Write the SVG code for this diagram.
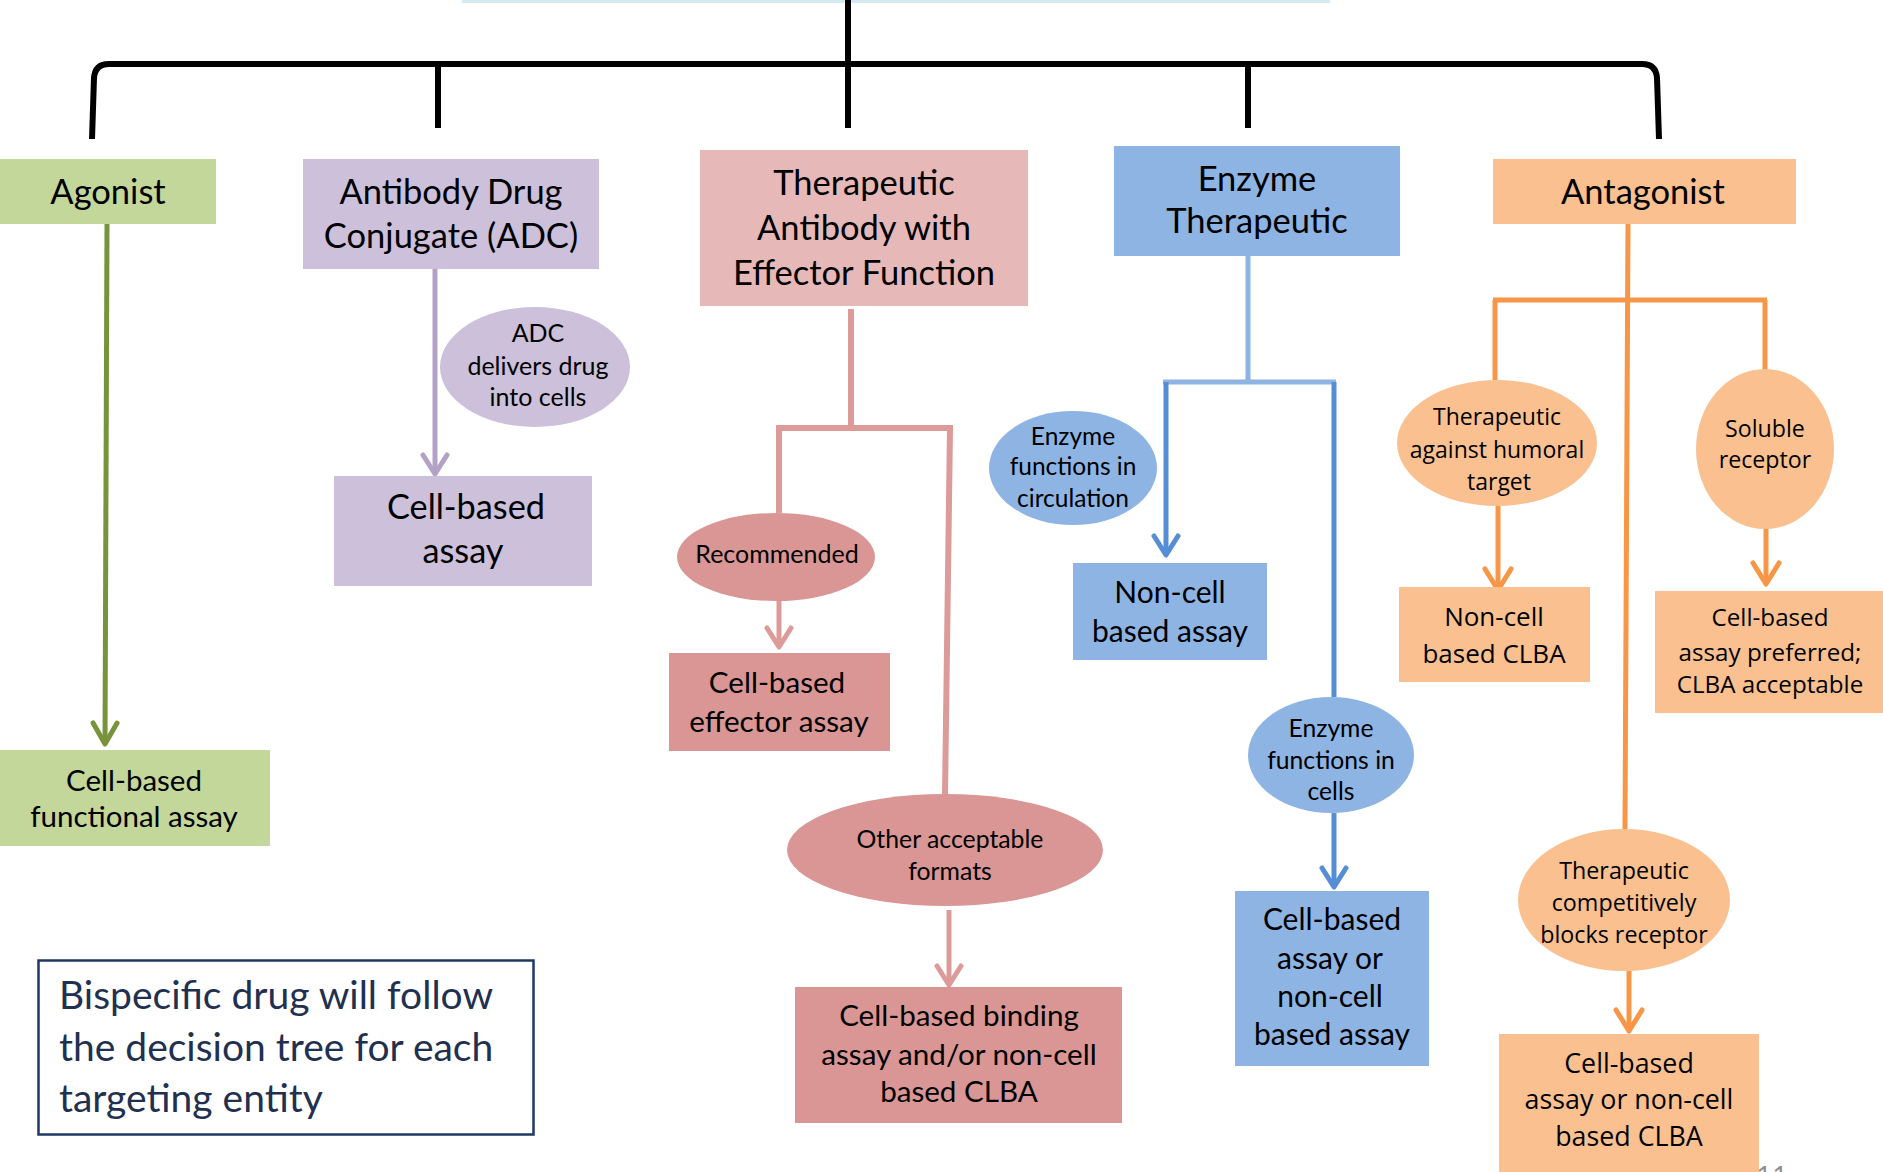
<svg xmlns="http://www.w3.org/2000/svg" width="1883" height="1172" viewBox="0 0 1883 1172">
<style>
.c{font-family:Lato,"Open Sans",sans-serif;fill:#000;text-anchor:middle}
.o{font-family:"Open Sans","Noto Sans",sans-serif;fill:#000;text-anchor:middle}
.h{font-size:34.5px}
.ln{fill:none;stroke-width:5;stroke-linecap:butt;stroke-linejoin:miter}
.g{stroke:#77933c}.p{stroke:#b3a2c7}.r{stroke:#dc9a99}.bl{stroke:#8eb4e3}.bd{stroke:#558ed5}.or{stroke:#f79646}
</style>
<defs>
<marker id="ag" markerUnits="userSpaceOnUse" orient="auto" overflow="visible" markerWidth="1" markerHeight="1"><path d="M-21,-12 L0,0 L-21,12" fill="none" stroke="#77933c" stroke-width="5" stroke-linecap="round" stroke-linejoin="round"/></marker>
<marker id="ap" markerUnits="userSpaceOnUse" orient="auto" overflow="visible" markerWidth="1" markerHeight="1"><path d="M-19,-12 L0,0 L-19,12" fill="none" stroke="#b3a2c7" stroke-width="5" stroke-linecap="round" stroke-linejoin="round"/></marker>
<marker id="ar" markerUnits="userSpaceOnUse" orient="auto" overflow="visible" markerWidth="1" markerHeight="1"><path d="M-19,-12 L0,0 L-19,12" fill="none" stroke="#dc9a99" stroke-width="5" stroke-linecap="round" stroke-linejoin="round"/></marker>
<marker id="ab" markerUnits="userSpaceOnUse" orient="auto" overflow="visible" markerWidth="1" markerHeight="1"><path d="M-19,-12 L0,0 L-19,12" fill="none" stroke="#558ed5" stroke-width="5" stroke-linecap="round" stroke-linejoin="round"/></marker>
<marker id="ao" markerUnits="userSpaceOnUse" orient="auto" overflow="visible" markerWidth="1" markerHeight="1"><path d="M-21,-13 L0,0 L-21,13" fill="none" stroke="#f79646" stroke-width="5" stroke-linecap="round" stroke-linejoin="round"/></marker>
</defs>
<rect x="0" y="0" width="1883" height="1172" fill="#fff"/>
<rect x="462" y="0" width="868" height="3" fill="#d5e9f2"/>

<g id="connectors">
<path d="M848,0 V128 M92,139 L94,78 Q95,64 109,64 H1642 Q1656,64 1657,78 L1659,139 M438,64 V128 M1248,64 V128" fill="none" stroke="#000" stroke-width="6"/>
<path class="ln g" d="M107,224 L105,744" marker-end="url(#ag)"/>
<path class="ln p" d="M435,269 V474" marker-end="url(#ap)"/>
<path class="ln r" d="M851,309 V428 M779,513 V428 H950 L945,795" style="stroke-width:6"/>
<path class="ln r" d="M779,601 V647" marker-end="url(#ar)"/>
<path class="ln r" d="M949,910 V985" marker-end="url(#ar)"/>
<path class="ln bl" d="M1248,256 V382 M1163,382 H1336"/>
<path class="ln bd" d="M1166,382 V555" marker-end="url(#ab)"/>
<path class="ln bd" d="M1334,382 V697"/>
<path class="ln bd" d="M1334,813 V887" marker-end="url(#ab)"/>
<path class="ln or" d="M1628,224 L1625,829 M1493,300 H1767 M1495,300 V380 M1765,300 V370"/>
<path class="ln or" d="M1498,505 V590" marker-end="url(#ao)"/>
<path class="ln or" d="M1766,528 V584" marker-end="url(#ao)"/>
<path class="ln or" d="M1629,971 V1031" marker-end="url(#ao)"/>
</g>

<g id="agonist"><rect x="0" y="159" width="216" height="65" fill="#c4d79b"/><text class="c h" x="108" y="204">Agonist</text></g>
<g id="adc"><rect x="303" y="159" width="296" height="110" fill="#ccc0da"/><text class="c h" x="451" y="204">Antibody Drug</text><text class="c h" x="451" y="248">Conjugate (ADC)</text></g>
<g id="therapeutic-antibody"><rect x="700" y="150" width="328" height="156" fill="#e6b9b8"/><text class="c h" x="864" y="195">Therapeutic</text><text class="c h" x="864" y="240">Antibody with</text><text class="c h" x="864" y="285">Effector Function</text></g>
<g id="enzyme"><rect x="1114" y="146" width="286" height="110" fill="#8eb4e3"/><text class="c h" x="1257" y="191">Enzyme</text><text class="c h" x="1257" y="233">Therapeutic</text></g>
<g id="antagonist"><rect x="1493" y="159" width="303" height="65" fill="#fac090"/><text class="c h" x="1643" y="204">Antagonist</text></g>

<g id="adc-ellipse"><ellipse cx="535" cy="367" rx="95" ry="60" fill="#ccc0da"/><text class="c" x="538" y="342" font-size="25">ADC</text><text class="c" x="538" y="375" font-size="25">delivers drug</text><text class="c" x="538" y="406" font-size="25">into cells</text></g>
<g id="adc-assay"><rect x="334" y="476" width="258" height="110" fill="#ccc0da"/><text class="c" x="466" y="519" font-size="34.3">Cell-based</text><text class="c" x="463" y="563" font-size="34.3">assay</text></g>
<g id="agonist-assay"><rect x="0" y="750" width="270" height="96" fill="#c4d79b"/><text class="c" x="134" y="791" font-size="29.5">Cell-based</text><text class="c" x="134" y="827" font-size="29.5">functional assay</text></g>

<g id="recommended"><ellipse cx="776" cy="557" rx="99" ry="44" fill="#d99694"/><text class="c" x="777" y="563" font-size="25">Recommended</text></g>
<g id="effector-assay"><rect x="669" y="653" width="221" height="98" fill="#d99694"/><text class="c" x="777" y="693" font-size="29.6">Cell-based</text><text class="c" x="779" y="732" font-size="29.6">effector assay</text></g>
<g id="other-formats"><ellipse cx="945" cy="850" rx="158" ry="56" fill="#d99694"/><text class="c" x="950" y="848" font-size="24.8">Other acceptable</text><text class="c" x="950" y="880" font-size="24.8">formats</text></g>
<g id="binding-assay"><rect x="795" y="987" width="327" height="136" fill="#d99694"/><text class="c" x="959" y="1026" font-size="29.6">Cell-based binding</text><text class="c" x="959" y="1065" font-size="29.6">assay and/or non-cell</text><text class="c" x="959" y="1102" font-size="29.6">based CLBA</text></g>

<g id="enzyme-circulation"><ellipse cx="1073" cy="468" rx="84" ry="57" fill="#8eb4e3"/><text class="c" x="1073" y="445" font-size="24.5">Enzyme</text><text class="c" x="1073" y="475" font-size="24.5">functions in</text><text class="c" x="1073" y="507" font-size="24.5">circulation</text></g>
<g id="noncell-assay"><rect x="1073" y="563" width="194" height="97" fill="#8eb4e3"/><text class="c" x="1170" y="603" font-size="30">Non-cell</text><text class="c" x="1170" y="642" font-size="30">based assay</text></g>
<g id="enzyme-cells"><ellipse cx="1331" cy="755" rx="83" ry="58" fill="#8eb4e3"/><text class="c" x="1331" y="737" font-size="24.7">Enzyme</text><text class="c" x="1331" y="769" font-size="24.7">functions in</text><text class="c" x="1331" y="800" font-size="24.7">cells</text></g>
<g id="enzyme-assay"><rect x="1235" y="891" width="194" height="175" fill="#8eb4e3"/><text class="c" x="1332" y="930" font-size="30">Cell-based</text><text class="c" x="1330" y="969" font-size="30">assay or</text><text class="c" x="1330" y="1007" font-size="30">non-cell</text><text class="c" x="1332" y="1045" font-size="30">based assay</text></g>

<g id="humoral"><ellipse cx="1497" cy="443" rx="100" ry="63" fill="#fac090"/><text class="o" x="1497" y="425" font-size="23">Therapeutic</text><text class="o" x="1497" y="458" font-size="23">against humoral</text><text class="o" x="1499" y="490" font-size="23">target</text></g>
<g id="soluble"><ellipse cx="1765" cy="449" rx="69" ry="80" fill="#fac090"/><text class="o" x="1765" y="437" font-size="23.2">Soluble</text><text class="o" x="1765" y="468" font-size="23.2">receptor</text></g>
<g id="noncell-clba"><rect x="1399" y="587" width="191" height="95" fill="#fac090"/><text class="o" x="1494" y="626" font-size="26">Non-cell</text><text class="o" x="1494" y="663" font-size="26">based CLBA</text></g>
<g id="soluble-assay"><rect x="1655" y="591" width="230" height="122" fill="#fac090"/><text class="o" x="1770" y="626" font-size="24.2">Cell-based</text><text class="o" x="1770" y="661" font-size="24.2">assay preferred;</text><text class="o" x="1770" y="693" font-size="24.2">CLBA acceptable</text></g>
<g id="competitive"><ellipse cx="1624" cy="900" rx="106" ry="71" fill="#fac090"/><text class="o" x="1624" y="879" font-size="23.3">Therapeutic</text><text class="o" x="1624" y="911" font-size="23.3">competitively</text><text class="o" x="1624" y="943" font-size="23.3">blocks receptor</text></g>
<g id="competitive-assay"><rect x="1499" y="1034" width="260" height="140" fill="#fac090"/><text class="o" x="1629" y="1073" font-size="26.8">Cell-based</text><text class="o" x="1629" y="1109" font-size="26.8">assay or non-cell</text><text class="o" x="1629" y="1146" font-size="26.8">based CLBA</text></g>

<g id="bispecific-note"><rect x="38.5" y="960.5" width="495" height="174" fill="#fff" stroke="#1f3864" stroke-width="2.5"/><text x="59" y="1009" font-family="Lato,'Open Sans',sans-serif" font-size="39" fill="#1f3050">Bispecific drug will follow</text><text x="59" y="1061" font-family="Lato,'Open Sans',sans-serif" font-size="39" fill="#1f3050">the decision tree for each</text><text x="59" y="1112" font-family="Lato,'Open Sans',sans-serif" font-size="39" fill="#1f3050">targeting entity</text></g>
<text x="1756" y="1186" font-family="'Open Sans',sans-serif" font-size="28" fill="#8c8c8c">11</text>
</svg>
